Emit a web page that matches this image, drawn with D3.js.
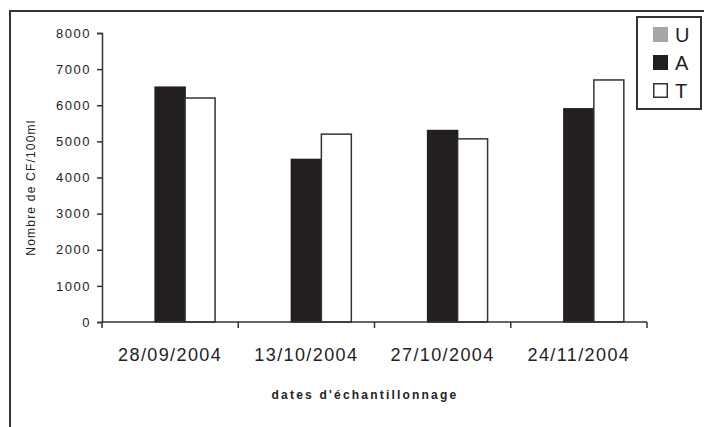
<!DOCTYPE html>
<html>
<head>
<meta charset="utf-8">
<script src="https://cdn.jsdelivr.net/npm/d3@7"></script>
<style>
  html, body { margin: 0; padding: 0; background: #fff; }
  svg { display: block; font-family: "Liberation Sans", Arial, sans-serif; }
</style>
</head>
<body>
<svg id="chart" width="704" height="427"></svg>
<script>
// Sampling dates and counts per series (CF per 100 ml)
const dates = ["28/09/2004", "13/10/2004", "27/10/2004", "24/11/2004"];
const seriesNames = ["U", "A", "T"];
const valuesU = [0, 0, 0, 0];
const valuesA = [6500, 4500, 5300, 5900];
const valuesT = [6200, 5200, 5070, 6700];
const yTicks = [0, 1000, 2000, 3000, 4000, 5000, 6000, 7000, 8000];

(function () {
  const seriesValues = { U: valuesU, A: valuesA, T: valuesT };
  const fills = { U: "#a6a6a6", A: "#231f20", T: "#ffffff" };
  const strokes = { U: "none", A: "#231f20", T: "#333333" };

  const svg = d3.select("#chart");
  const ink = "#333333";

  // outer frame
  svg.append("rect")
    .attr("x", 10).attr("y", 11)
    .attr("width", 720).attr("height", 440)
    .attr("fill", "none").attr("stroke", ink).attr("stroke-width", 2);

  const plotLeft = 102, plotRight = 647, plotTop = 33, plotBottom = 322;

  const x0 = d3.scaleBand().domain(dates).range([plotLeft, plotRight])
    .paddingInner(0.34).paddingOuter(0.17);
  const x1 = d3.scaleBand().domain(seriesNames).range([0, x0.bandwidth()]);
  const y = d3.scaleLinear().domain([0, 8000]).range([plotBottom, plotTop]);

  // bars
  const rows = dates.map((d, i) => ({ date: d, vals: seriesNames.map(s => ({ s, v: seriesValues[s][i] })) }));
  const groups = svg.append("g").selectAll("g").data(rows).join("g")
    .attr("transform", d => `translate(${x0(d.date)},0)`);
  groups.selectAll("rect").data(d => d.vals.filter(e => e.v > 0)).join("rect")
    .attr("x", e => x1(e.s))
    .attr("width", x1.bandwidth())
    .attr("y", e => y(e.v))
    .attr("height", e => y(0) - y(e.v))
    .attr("fill", e => fills[e.s])
    .attr("stroke", e => strokes[e.s])
    .attr("stroke-width", 1.5);

  // y axis
  const yAxis = svg.append("g").attr("transform", `translate(${plotLeft},0)`)
    .call(d3.axisLeft(y).tickValues(yTicks).tickFormat(d3.format("d")).tickSize(5).tickPadding(6));
  yAxis.select(".domain").attr("stroke", ink).attr("stroke-width", 1.5);
  yAxis.selectAll(".tick line").attr("stroke", ink).attr("stroke-width", 1.5);
  yAxis.selectAll(".tick text").attr("font-size", 13).attr("letter-spacing", "1.5px")
    .attr("fill", "#222").attr("font-family", "'Liberation Sans', Arial, sans-serif");

  // x axis: category labels
  const xAxis = svg.append("g").attr("transform", `translate(0,${plotBottom})`)
    .call(d3.axisBottom(x0).tickSize(0).tickPadding(26));
  xAxis.select(".domain").remove();
  xAxis.selectAll(".tick text").attr("font-size", 18).attr("letter-spacing", "1.4px")
    .attr("fill", "#222").attr("font-family", "'Liberation Sans', Arial, sans-serif");

  // x axis line with ticks at category boundaries
  const step = x0.step();
  const bounds = [plotLeft].concat(dates.map(d => x0(d) - step * x0.paddingInner() / 2 + step));
  svg.append("line").attr("x1", plotLeft).attr("x2", plotRight).attr("y1", plotBottom).attr("y2", plotBottom)
    .attr("stroke", ink).attr("stroke-width", 1.5);
  svg.append("g").selectAll("line").data(bounds).join("line")
    .attr("x1", d => d).attr("x2", d => d)
    .attr("y1", plotBottom).attr("y2", plotBottom + 6)
    .attr("stroke", ink).attr("stroke-width", 1.5);

  // axis titles
  svg.append("text")
    .attr("transform", `translate(35,${(plotTop + plotBottom) / 2 + 10}) rotate(-90)`)
    .attr("text-anchor", "middle")
    .attr("font-size", 12).attr("letter-spacing", "1.2px").attr("fill", "#222")
    .text("Nombre de CF/100ml");
  svg.append("text")
    .attr("x", 365).attr("y", 399)
    .attr("text-anchor", "middle")
    .attr("font-size", 12).attr("font-weight", "bold").attr("letter-spacing", "2.2px").attr("fill", "#222")
    .text("dates d'échantillonnage");

  // legend
  const lg = svg.append("g").attr("transform", "translate(637,17)");
  lg.append("rect").attr("width", 64).attr("height", 92)
    .attr("fill", "#fff").attr("stroke", ink).attr("stroke-width", 2);
  const items = lg.selectAll("g").data(seriesNames).join("g")
    .attr("transform", (d, i) => `translate(16,${10 + i * 28})`);
  items.append("rect")
    .attr("x", d => d === "T" ? 0.75 : 0).attr("y", d => d === "T" ? 0.75 : 0)
    .attr("width", d => d === "T" ? 13.5 : 15).attr("height", d => d === "T" ? 13.5 : 15)
    .attr("fill", d => fills[d])
    .attr("stroke", d => d === "T" ? ink : "none").attr("stroke-width", 1.5);
  items.append("text").attr("x", 22).attr("y", 15)
    .attr("font-size", 20).attr("fill", "#222")
    .text(d => d);
})();
</script>
</body>
</html>
